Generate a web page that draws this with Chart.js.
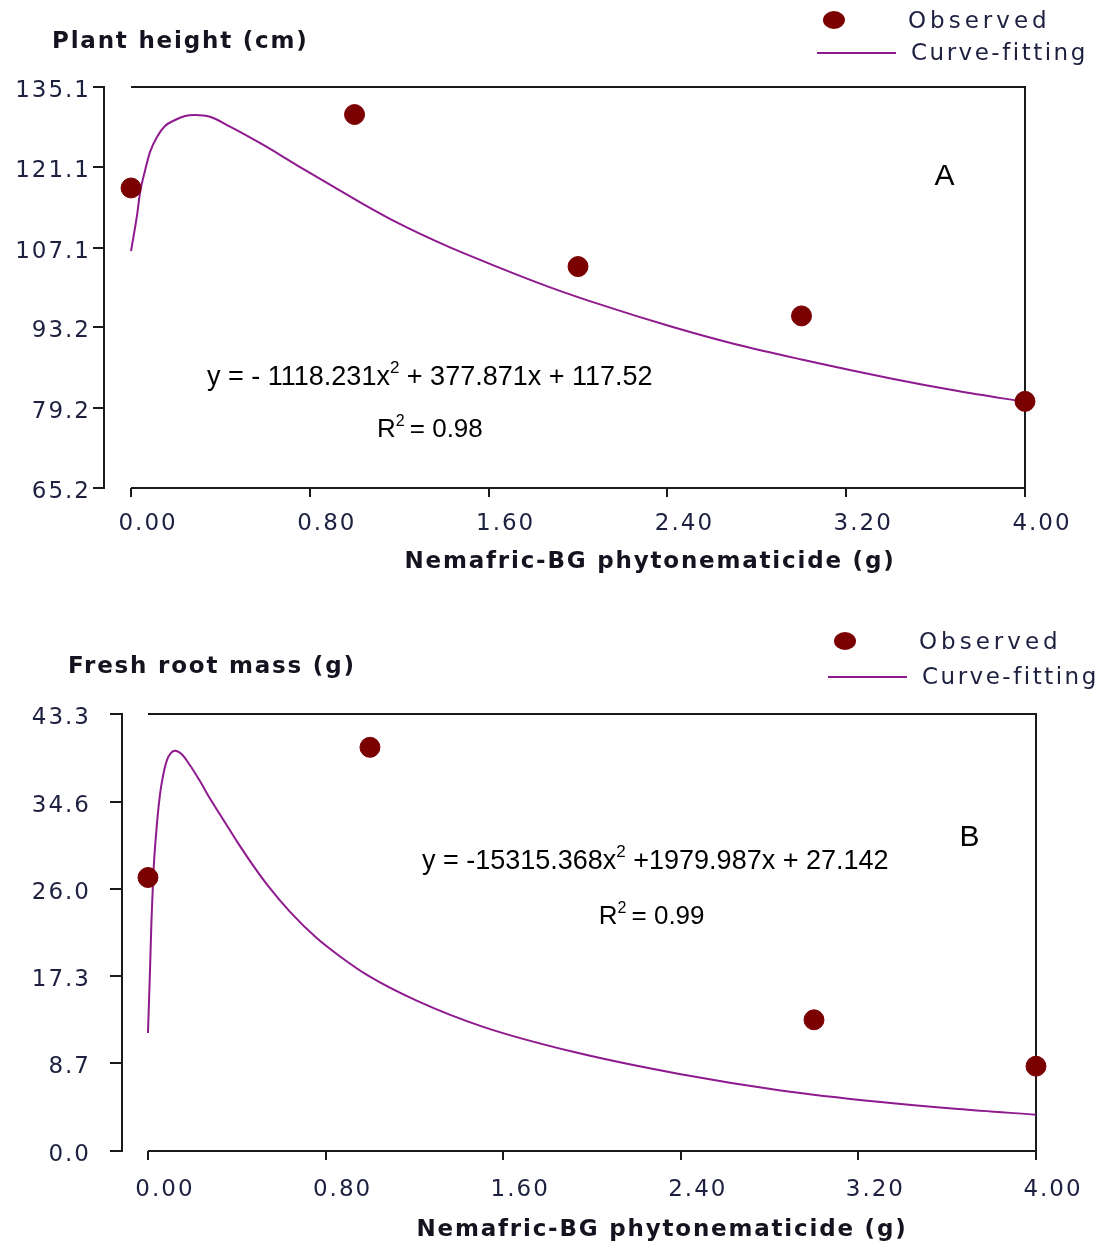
<!DOCTYPE html>
<html>
<head>
<meta charset="utf-8">
<script src="https://cdn.jsdelivr.net/npm/chart.js@4"></script>
<style>
  body { margin: 0; background: #fff; }
  canvas { display: block; }
</style>
</head>
<body>
<canvas id="chartA" width="1096" height="600"></canvas>
<canvas id="chartB" width="1096" height="647"></canvas>
<script>
// dose axis, shared by both panels
const doseTicks = [0, 0.8, 1.6, 2.4, 3.2, 4.0];

// A - plant height (cm)
const heightDoses = [0, 1, 2, 3, 4];
const heightObserved = [117.5, 130.3, 103.8, 95.2, 80.3];
const heightFitX = [0, 0.027, 0.040, 0.063, 0.085, 0.116, 0.152, 0.197, 0.242, 0.286, 0.353, 0.443, 0.592, 0.741, 0.890, 1.039, 1.189, 1.412, 1.636, 1.860, 2.098, 2.42, 2.70, 3.00, 3.40, 3.70, 4.00];
const heightFitY = [106.5, 112.8, 116.6, 120.6, 123.8, 126.4, 128.3, 129.35, 130.05, 130.2, 129.9, 128.2, 125.0, 121.5, 118.1, 114.7, 111.5, 107.4, 103.8, 100.4, 97.2, 93.3, 90.3, 87.6, 84.3, 82.1, 80.2];
const heightTicks = [65.2, 79.2, 93.2, 107.1, 121.1, 135.1];

// B - fresh root mass (g)
const rootDoses = [0, 1, 3, 4];
const rootObserved = [27.1, 40.0, 13.0, 8.4];
const rootFitX = [0, 0.009, 0.016, 0.025, 0.038, 0.054, 0.069, 0.086, 0.104, 0.122, 0.150, 0.190, 0.230, 0.280, 0.340, 0.400, 0.470, 0.540, 0.640, 0.760, 0.870, 0.990, 1.210, 1.510, 1.920, 2.400, 2.850, 3.300, 3.650, 4.000];
const rootFitY = [11.7, 17.8, 23.0, 27.8, 31.8, 35.3, 37.3, 38.75, 39.45, 39.65, 39.35, 38.2, 36.8, 34.9, 32.8, 30.7, 28.4, 26.3, 23.7, 21.1, 19.2, 17.4, 14.9, 12.3, 9.8, 7.6, 6.0, 4.85, 4.15, 3.6];
const rootTicks = [0.0, 8.7, 17.3, 26.0, 34.6, 43.3];

const INK = '#1a1a1a';
const LABEL = '#1e2040';
const DOT = '#7b0000';
const CURVE = '#8e1a8e';
const SANS = '"DejaVu Sans", Verdana, sans-serif';
const ARIAL = '"Liberation Sans", Arial, sans-serif';

// text with superscript pieces: [[text, isSup], ...]
function drawParts(ctx, parts, x, y, size) {
  let cx = x;
  parts.forEach(([t, sup]) => {
    ctx.font = (sup ? Math.round(size * 0.62) : size) + 'px ' + ARIAL;
    ctx.fillText(t, cx, sup ? y - size * 0.33 : y);
    cx += ctx.measureText(t).width;
  });
}

const framePlugin = {
  id: 'frame',
  beforeDraw(chart) {
    chart.ctx.letterSpacing = '2px';
  },
  beforeDatasetsDraw(chart) {
    const { ctx, chartArea: a, scales: { x } } = chart;
    const x0 = x.getPixelForValue(doseTicks[0]);
    const x1 = x.getPixelForValue(doseTicks[doseTicks.length - 1]);
    ctx.save();
    ctx.strokeStyle = INK;
    ctx.lineWidth = 2;
    ctx.beginPath();
    ctx.moveTo(x0, a.top);
    ctx.lineTo(x1, a.top);
    ctx.lineTo(x1, a.bottom);
    ctx.moveTo(x0, a.bottom);
    ctx.lineTo(x1, a.bottom);
    ctx.stroke();
    ctx.restore();
  },
  afterDraw(chart, args, o) {
    const { ctx, chartArea: a, scales: { x, y } } = chart;
    ctx.save();
    ctx.textBaseline = 'middle';

    // axis titles
    ctx.letterSpacing = '1.8px';
    ctx.fillStyle = '#141420';
    ctx.font = 'bold 23px ' + SANS;
    ctx.textAlign = 'left';
    ctx.fillText(o.yTitle, o.yTitlePos[0], o.yTitlePos[1]);
    ctx.textAlign = 'center';
    ctx.fillText(o.xTitle, o.xTitlePos[0], o.xTitlePos[1]);

    // legend
    ctx.textAlign = 'left';
    ctx.font = '23px ' + SANS;
    ctx.fillStyle = LABEL;
    ctx.letterSpacing = '4px';
    ctx.fillText('Observed', a.right - 117, o.legendY[0] + 2);
    ctx.letterSpacing = '2.5px';
    ctx.fillText('Curve-fitting', a.right - 114, o.legendY[1] + 1);
    ctx.fillStyle = DOT;
    ctx.beginPath();
    ctx.ellipse(a.right - 191, o.legendY[0], 11, 9, 0, 0, Math.PI * 2);
    ctx.fill();
    ctx.strokeStyle = CURVE;
    ctx.lineWidth = 2;
    ctx.beginPath();
    ctx.moveTo(a.right - 208, o.legendY[1]);
    ctx.lineTo(a.right - 129, o.legendY[1]);
    ctx.stroke();

    // equation, R2 and panel letter
    ctx.letterSpacing = '0px';
    ctx.fillStyle = '#000';
    drawParts(ctx, o.equation, x.getPixelForValue(o.eqAt[0]), y.getPixelForValue(o.eqAt[1]), 27);
    drawParts(ctx, o.r2, x.getPixelForValue(o.r2At[0]), y.getPixelForValue(o.r2At[1]), 26);
    ctx.textAlign = 'center';
    ctx.font = '30px ' + ARIAL;
    ctx.fillText(o.letter, x.getPixelForValue(o.letterAt[0]), y.getPixelForValue(o.letterAt[1]));
    ctx.restore();
  }
};

function makeChart(id, cfg) {
  const canvas = document.getElementById(id);
  return new Chart(canvas, {
    type: 'scatter',
    data: {
      datasets: [
        {
          label: 'Observed',
          data: cfg.doses.map((d, i) => ({ x: d, y: cfg.observed[i] })),
          backgroundColor: DOT,
          borderColor: DOT,
          pointRadius: 10,
          pointHoverRadius: 10,
          clip: false,
          order: 0
        },
        {
          label: 'Curve-fitting',
          data: cfg.fitX.map((d, i) => ({ x: d, y: cfg.fitY[i] })),
          showLine: true,
          borderColor: CURVE,
          borderWidth: 2,
          pointRadius: 0,
          cubicInterpolationMode: 'monotone',
          order: 1
        }
      ]
    },
    options: {
      responsive: false,
      animation: false,
      events: [],
      layout: { padding: { left: 0, top: cfg.box.top, right: canvas.width - cfg.box.right, bottom: 0 } },
      plugins: {
        legend: { display: false },
        tooltip: { enabled: false },
        frame: cfg.text
      },
      scales: {
        x: {
          type: 'linear',
          min: cfg.xMin,
          max: 4,
          afterBuildTicks: s => { s.ticks = doseTicks.map(v => ({ value: v })); },
          afterFit: s => { s.height = canvas.height - cfg.box.bottom; },
          border: { display: false },
          grid: { drawOnChartArea: false, drawTicks: true, tickLength: 9, color: INK, lineWidth: 2 },
          ticks: {
            callback: v => v.toFixed(2),
            font: { family: SANS, size: 23 },
            color: LABEL,
            padding: cfg.xPad,
            labelOffset: 17,
            maxRotation: 0
          }
        },
        y: {
          type: 'linear',
          min: cfg.yTicks[0],
          max: cfg.yTicks[cfg.yTicks.length - 1],
          afterBuildTicks: s => { s.ticks = cfg.yTicks.map(v => ({ value: v })); },
          afterFit: s => { s.width = cfg.box.left; },
          border: { display: true, color: INK, width: 2 },
          grid: { drawOnChartArea: false, drawTicks: true, tickLength: cfg.yTickLen, color: INK, lineWidth: 2 },
          ticks: {
            callback: v => v.toFixed(1),
            font: { family: SANS, size: 23 },
            color: LABEL,
            padding: cfg.yPad,
            labelOffset: 4
          }
        }
      }
    },
    plugins: [framePlugin]
  });
}

makeChart('chartA', {
  doses: heightDoses, observed: heightObserved, fitX: heightFitX, fitY: heightFitY,
  yTicks: heightTicks, xMin: -0.121,
  box: { left: 104, right: 1025, top: 87, bottom: 488 },
  xPad: 13, yPad: 2, yTickLen: 11,
  text: {
    yTitle: 'Plant height (cm)', yTitlePos: [52, 42],
    xTitle: 'Nemafric-BG phytonematicide (g)', xTitlePos: [650, 562],
    legendY: [20, 53],
    equation: [['y = - 1118.231x', false], ['2', true], [' + 377.871x + 117.52', false]],
    eqAt: [0.34, 84.5],
    r2: [['R', false], ['2', true], ['\u2009= 0.98', false]],
    r2At: [1.10, 75.3],
    letter: 'A', letterAt: [3.64, 119.4]
  }
});

makeChart('chartB', {
  doses: rootDoses, observed: rootObserved, fitX: rootFitX, fitY: rootFitY,
  yTicks: rootTicks, xMin: -0.117,
  box: { left: 122, right: 1036, top: 114, bottom: 551 },
  xPad: 16, yPad: 19, yTickLen: 12,
  text: {
    yTitle: 'Fresh root mass (g)', yTitlePos: [68, 67],
    xTitle: 'Nemafric-BG phytonematicide (g)', xTitlePos: [662, 630],
    legendY: [41, 77],
    equation: [['y = -15315.368x', false], ['2', true], [' +1979.987x + 27.142', false]],
    eqAt: [1.234, 28.7],
    r2: [['R', false], ['2', true], ['\u2009= 0.99', false]],
    r2At: [2.03, 23.2],
    letter: 'B', letterAt: [3.70, 31.0]
  }
});
</script>
</body>
</html>
